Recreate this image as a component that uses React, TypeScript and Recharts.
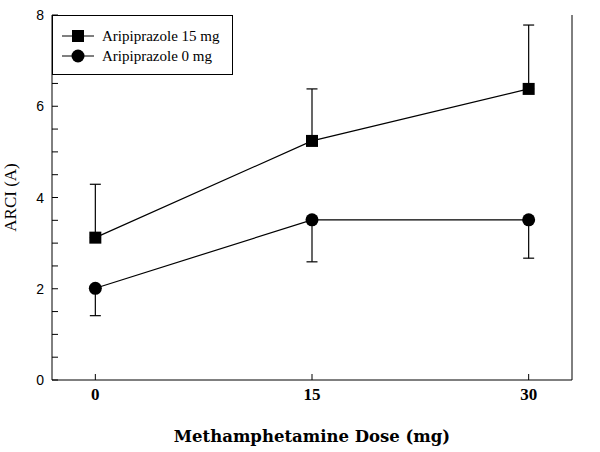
import { ErrorBar, Line, LineChart, XAxis, YAxis } from 'recharts';

// doses on the x axis
const doses = [0, 15, 30];
// Aripiprazole 15 mg (squares) – mean and upper error
const ari15 = [3.12, 5.24, 6.38];
const ari15Err = [1.17, 1.14, 1.4];
// Aripiprazole 0 mg (circles) – mean and lower error
const ari0 = [2.01, 3.51, 3.51];
const ari0Err = [0.6, 0.92, 0.84];

const yTicks = [0, 0.5, 1, 1.5, 2, 2.5, 3, 3.5, 4, 4.5, 5, 5.5, 6, 6.5, 7, 7.5, 8];
const xTicks = [0, 15, 30];

const data = doses.map((d, i) => ({
  dose: d,
  hi: ari15[i],
  hiErr: [0, ari15Err[i]],
  lo: ari0[i],
  loErr: [ari0Err[i], 0],
}));

const SERIF = '"Liberation Serif", "DejaVu Serif", serif';
const WIDE_SERIF = '"DejaVu Serif", "Liberation Serif", serif';
const SANS = '"Liberation Sans", Arial, sans-serif';

function LeftTick(props: any) {
  const { x, y, payload } = props;
  const ax = x + 6;
  const major = payload.value % 2 === 0;
  return (
    <g>
      <line x1={ax} x2={ax + 6} y1={y} y2={y} stroke="#000" strokeWidth={1} />
      {major && (
        <text x={x - 2} y={y} dy={5} textAnchor="end" fontFamily={SANS} fontSize={14} fill="#000">
          {payload.value}
        </text>
      )}
    </g>
  );
}

function RightTick(props: any) {
  const { x, y, payload } = props;
  const ax = x - 6;
  const major = payload.value % 2 === 0;
  return (
    <g>
      <line x1={ax} x2={ax - 6} y1={y} y2={y} stroke="#000" strokeWidth={1} />
      {major && (
        <text x={x + 2} y={y} dy={5} textAnchor="start" fontFamily={SANS} fontSize={14} fill="#000">
          {payload.value}
        </text>
      )}
    </g>
  );
}

function BottomTick(props: any) {
  const { x, y, payload } = props;
  return (
    <g>
      <line x1={x} x2={x} y1={y} y2={y - 6} stroke="#000" strokeWidth={1} />
      <text x={x} y={y + 20} textAnchor="middle" fontFamily={SERIF} fontWeight="bold" fontSize={17} fill="#000">
        {payload.value}
      </text>
    </g>
  );
}

function TopTick(props: any) {
  const { x, y } = props;
  return <line x1={x} x2={x} y1={y} y2={y + 6} stroke="#000" strokeWidth={1} />;
}

function Square(props: any) {
  const { cx, cy, index } = props;
  return <rect key={`s${index}`} x={cx - 6} y={cy - 6} width={12} height={12} fill="#000" />;
}

function Circle(props: any) {
  const { cx, cy, index } = props;
  return <circle key={`c${index}`} cx={cx} cy={cy} r={6.5} fill="#000" />;
}

function LegendBox() {
  return (
    <svg
      width={181}
      height={60}
      style={{ position: 'absolute', left: 52, top: 15 }}
    >
      <rect x={0.5} y={0.5} width={180} height={59} fill="#fff" stroke="#000" strokeWidth={1} />
      <line x1={10} x2={42} y1={21} y2={21} stroke="#000" />
      <rect x={20} y={15} width={12} height={12} fill="#000" />
      <text x={50} y={26} fontFamily={SERIF} fontSize={15} fill="#000">Aripiprazole 15 mg</text>
      <line x1={10} x2={42} y1={41} y2={41} stroke="#000" />
      <circle cx={26} cy={41} r={6.5} fill="#000" />
      <text x={50} y={46} fontFamily={SERIF} fontSize={15} fill="#000">Aripiprazole 0 mg</text>
    </svg>
  );
}

export default function App() {
  return (
    <div style={{ position: 'absolute', left: 0, top: 0, width: 600, height: 452, background: '#fff' }}>
      <LineChart width={600} height={452} data={data} margin={{ top: 15, right: 0, bottom: 0, left: 0 }}>
        <XAxis
          dataKey="dose"
          type="number"
          domain={[-3, 33]}
          ticks={xTicks}
          height={72}
          tickSize={0}
          tickMargin={0}
          tick={<BottomTick />}
          axisLine={{ stroke: '#000', strokeWidth: 1 }}
          label={{ value: 'Methamphetamine Dose (mg)', position: 'insideBottom', offset: 10, fontFamily: WIDE_SERIF, fontWeight: 'bold', fontSize: 16.5, fill: '#000' }}
        />
        <XAxis
          xAxisId="top"
          orientation="top"
          dataKey="dose"
          type="number"
          domain={[-3, 33]}
          ticks={xTicks}
          height={0}
          tickSize={0}
          tickMargin={0}
          tick={<TopTick />}
          axisLine={{ stroke: '#000', strokeWidth: 1 }}
        />
        <YAxis
          yAxisId="left"
          domain={[0, 8]}
          ticks={yTicks}
          interval={0}
          width={52}
          tickSize={0}
          tickMargin={6}
          tick={<LeftTick />}
          axisLine={{ stroke: '#000', strokeWidth: 1 }}
          label={{ value: 'ARCI (A)', angle: -90, position: 'insideLeft', offset: 10, fontFamily: SERIF, fontSize: 17, fill: '#000', style: { textAnchor: 'middle' } }}
        />
        <YAxis
          yAxisId="right"
          orientation="right"
          domain={[0, 8]}
          ticks={yTicks}
          interval={0}
          width={28}
          tickSize={0}
          tickMargin={6}
          tick={<RightTick />}
          axisLine={{ stroke: '#000', strokeWidth: 1 }}
        />
        <Line
          yAxisId="left"
          dataKey="hi"
          stroke="#000"
          strokeWidth={1.2}
          dot={<Square />}
          activeDot={false}
          isAnimationActive={false}
        >
          <ErrorBar dataKey="hiErr" direction="y" width={5.5} stroke="#000" strokeWidth={1.2} />
        </Line>
        <Line
          yAxisId="left"
          dataKey="lo"
          stroke="#000"
          strokeWidth={1.2}
          dot={<Circle />}
          activeDot={false}
          isAnimationActive={false}
        >
          <ErrorBar dataKey="loErr" direction="y" width={5.5} stroke="#000" strokeWidth={1.2} />
        </Line>
      </LineChart>
      <LegendBox />
    </div>
  );
}
